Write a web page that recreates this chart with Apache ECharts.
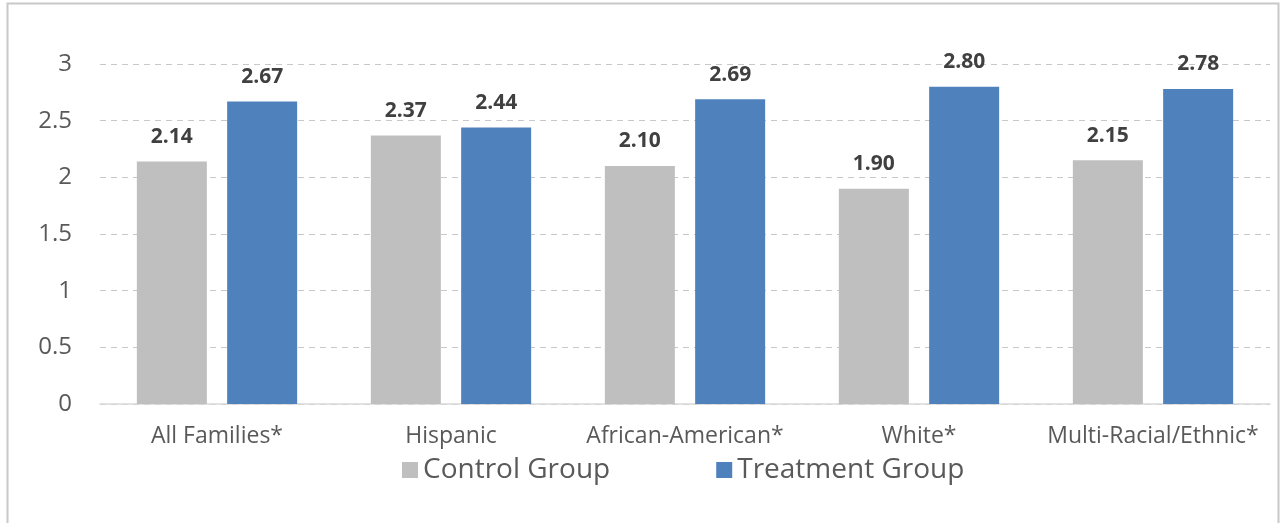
<!DOCTYPE html>
<html>
<head>
<meta charset="utf-8">
<script src="https://cdn.jsdelivr.net/npm/echarts@6/dist/echarts.min.js"></script>
<style>
  html, body { margin: 0; padding: 0; background: #fff; }
  #chart { width: 1281px; height: 523px; }
</style>
</head>
<body>
<div id="chart"></div>
<script>
// Average scores by family race/ethnicity
const categories = ['All Families*', 'Hispanic', 'African-American*', 'White*', 'Multi-Racial/Ethnic*'];
const controlValues = [2.14, 2.37, 2.10, 1.90, 2.15];
const treatmentValues = [2.67, 2.44, 2.69, 2.80, 2.78];
const yTicks = [0, 0.5, 1, 1.5, 2, 2.5, 3];

const FONT = '"Open Sans", "Noto Sans", sans-serif';

const chart = echarts.init(document.getElementById('chart'), null, { renderer: 'canvas' });

const labelStyle = {
  show: true,
  position: 'top',
  distance: 14,
  fontFamily: FONT,
  fontWeight: 'bold',
  fontSize: 21,
  color: '#404040',
  formatter: p => p.value.toFixed(2)
};

chart.setOption({
  animation: false,
  backgroundColor: '#ffffff',
  graphic: [{
    type: 'rect',
    shape: { x: 7.5, y: 3.5, width: 1271, height: 540 },
    style: { fill: 'none', stroke: '#c8c8c8', lineWidth: 2 },
    silent: true
  }],
  grid: { left: 100, right: 11, top: 64, bottom: 119, containLabel: false },
  legend: {
    top: 451,
    left: 397,
    itemWidth: 16,
    itemHeight: 16,
    itemGap: 106,
    icon: 'rect',
    textStyle: { fontFamily: FONT, fontSize: 28, color: '#595959' },
    data: ['Control Group', 'Treatment Group']
  },
  xAxis: {
    type: 'category',
    data: categories,
    axisLine: { show: true, lineStyle: { color: '#d9d9d9', width: 1.5 } },
    axisTick: { show: false },
    axisLabel: { interval: 0, fontFamily: FONT, fontSize: 23, color: '#595959', margin: 21 }
  },
  yAxis: {
    type: 'value',
    min: yTicks[0],
    max: yTicks[yTicks.length - 1],
    interval: 0.5,
    axisLine: { show: false },
    axisTick: { show: false },
    axisLabel: { fontFamily: FONT, fontSize: 24, color: '#595959', margin: 28 },
    splitLine: { show: true, lineStyle: { color: '#c8c8c8', type: [6, 5], width: 1.2 } }
  },
  series: [
    {
      name: 'Control Group',
      type: 'bar',
      data: controlValues,
      barWidth: 70,
      barGap: '29%',
      itemStyle: { color: '#bfbfbf' },
      label: labelStyle
    },
    {
      name: 'Treatment Group',
      type: 'bar',
      data: treatmentValues,
      barWidth: 70,
      itemStyle: { color: '#4f81bd' },
      label: labelStyle
    }
  ]
});
</script>
</body>
</html>
